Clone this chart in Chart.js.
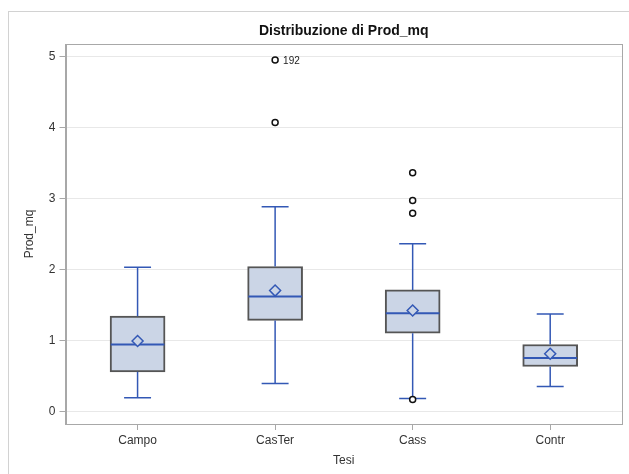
<!DOCTYPE html>
<html>
<head>
<meta charset="utf-8">
<script src="https://cdn.jsdelivr.net/npm/chart.js@4"></script>
<style>
  body { margin: 0; background: #fff; }
  #wrap { position: relative; width: 629px; height: 474px; overflow: hidden; }
  #frame { position: absolute; left: 8px; top: 11px; width: 700px; height: 600px; border: 1px solid #d2d2d2; box-sizing: border-box; }
  #cv { position: absolute; left: 0; top: 0; }
</style>
</head>
<body>
<div id="wrap">
  <div id="frame"></div>
  <canvas id="cv" width="629" height="474"></canvas>
</div>
<script>
// dati
const categories = ['Campo', 'CasTer', 'Cass', 'Contr'];
const whiskerLow = [0.19, 0.39, 0.18, 0.35];
const q1 = [0.555, 1.28, 1.10, 0.63];
const median = [0.94, 1.615, 1.38, 0.75];
const mean = [0.99, 1.70, 1.42, 0.81];
const q3 = [1.34, 2.04, 1.71, 0.94];
const whiskerHigh = [2.03, 2.88, 2.36, 1.37];
const outliers = [[], [4.07, 4.95], [3.36, 2.97, 2.79, 0.165], []];
const outlierLabels = [[], ['', '192'], ['', '', '', ''], []];
const yTicks = [0, 1, 2, 3, 4, 5];

const blue = '#3358b5';
const boxFill = '#cbd5e6';
const font = 'Liberation Sans, Arial, sans-serif';

// segmenti costruiti dai valori
const whiskerPts = [];
const capPts = [];
const medianPts = [];
categories.forEach((c, i) => {
  const x = i + 1;
  whiskerPts.push({x: x, y: whiskerLow[i]}, {x: x, y: q1[i]}, {x: x, y: null});
  whiskerPts.push({x: x, y: q3[i]}, {x: x, y: whiskerHigh[i]}, {x: x, y: null});
  capPts.push({x: x - 0.098, y: whiskerLow[i]}, {x: x + 0.098, y: whiskerLow[i]}, {x: x, y: null});
  capPts.push({x: x - 0.098, y: whiskerHigh[i]}, {x: x + 0.098, y: whiskerHigh[i]}, {x: x, y: null});
  medianPts.push({x: x - 0.195, y: median[i]}, {x: x + 0.195, y: median[i]}, {x: x, y: null});
});
const meanPts = categories.map((c, i) => ({x: i + 1, y: mean[i]}));
const outlierPts = [];
outliers.forEach((vals, i) => {
  vals.forEach((v, j) => outlierPts.push({x: i + 1, y: v, label: outlierLabels[i][j]}));
});

// titolo centrato sull'area del grafico, cornice ed etichette outlier
const extras = {
  id: 'extras',
  afterDatasetsDraw(chart) {
    const {ctx, chartArea: a} = chart;
    ctx.save();
    ctx.strokeStyle = '#a8a8a8';
    ctx.lineWidth = 1;
    ctx.strokeRect(Math.round(a.left) + 0.5, Math.round(a.top) + 0.5,
      Math.round(a.right - a.left) - 1, Math.round(a.bottom - a.top));
    ctx.fillStyle = '#111';
    ctx.font = 'bold 14px ' + font;
    ctx.textAlign = 'center';
    ctx.textBaseline = 'middle';
    ctx.fillText('Distribuzione di Prod_mq', (a.left + a.right) / 2, 31.5);
    const meta = chart.getDatasetMeta(5);
    ctx.font = '10px ' + font;
    ctx.textAlign = 'left';
    ctx.fillStyle = '#222';
    meta.data.forEach((el, k) => {
      const lab = outlierPts[k].label;
      if (lab) ctx.fillText(lab, el.x + 8, el.y + 1);
    });
    ctx.restore();
  }
};

new Chart(document.getElementById('cv'), {
  data: {
    datasets: [
      {
        type: 'bar', order: 10,
        data: categories.map((c, i) => ({x: i + 1, y: [q1[i], q3[i]]})),
        backgroundColor: boxFill, borderColor: '#555', borderWidth: 2,
        borderSkipped: false, barThickness: 55
      },
      {
        type: 'line', order: 3, data: whiskerPts,
        borderColor: blue, borderWidth: 1.5, pointRadius: 0, spanGaps: false
      },
      {
        type: 'line', order: 3, data: capPts,
        borderColor: blue, borderWidth: 1.5, pointRadius: 0, spanGaps: false
      },
      {
        type: 'line', order: 2, data: medianPts,
        borderColor: blue, borderWidth: 2, pointRadius: 0, spanGaps: false
      },
      {
        type: 'line', order: 1, data: meanPts, showLine: false,
        pointStyle: 'rectRot', pointRadius: 5.5, borderWidth: 1.5,
        pointBorderColor: blue, pointBackgroundColor: boxFill
      },
      {
        type: 'line', order: 0, data: outlierPts, showLine: false,
        pointStyle: 'circle', pointRadius: 3, borderWidth: 1.5,
        pointBorderColor: '#111', pointBackgroundColor: '#fff'
      }
    ]
  },
  options: {
    responsive: false,
    animation: false,
    layout: { padding: { top: 44, right: 7, bottom: 0, left: 0 } },
    plugins: { legend: { display: false }, tooltip: { enabled: false }, title: { display: false } },
    scales: {
      x: {
        type: 'linear', min: 0.476, max: 4.522, offset: false,
        afterFit: s => { s.height = 50; },
        afterBuildTicks: s => { s.ticks = categories.map((c, i) => ({value: i + 1})); },
        ticks: {
          callback: v => categories[v - 1],
          color: '#333', font: { family: font, size: 12 }, padding: 3, maxRotation: 0
        },
        grid: { offset: false, drawOnChartArea: false, tickLength: 6, tickColor: '#a8a8a8' },
        border: { color: '#a8a8a8' },
        title: {
          display: true, text: 'Tesi', color: '#333',
          font: { family: font, size: 12 }, padding: { top: 0, bottom: 6 }
        }
      },
      y: {
        min: -0.18, max: 5.175,
        afterFit: s => { s.width = 65.5; },
        afterBuildTicks: s => { s.ticks = yTicks.map(v => ({value: v})); },
        ticks: { color: '#333', font: { family: font, size: 12 }, padding: 4 },
        grid: { color: '#e8e8e8', tickLength: 6, tickColor: '#a8a8a8' },
        border: { color: '#a8a8a8' },
        title: {
          display: true, text: 'Prod_mq', color: '#333',
          font: { family: font, size: 12 }, padding: { top: 22, bottom: 0 }
        }
      }
    }
  },
  plugins: [extras]
});
</script>
</body>
</html>
